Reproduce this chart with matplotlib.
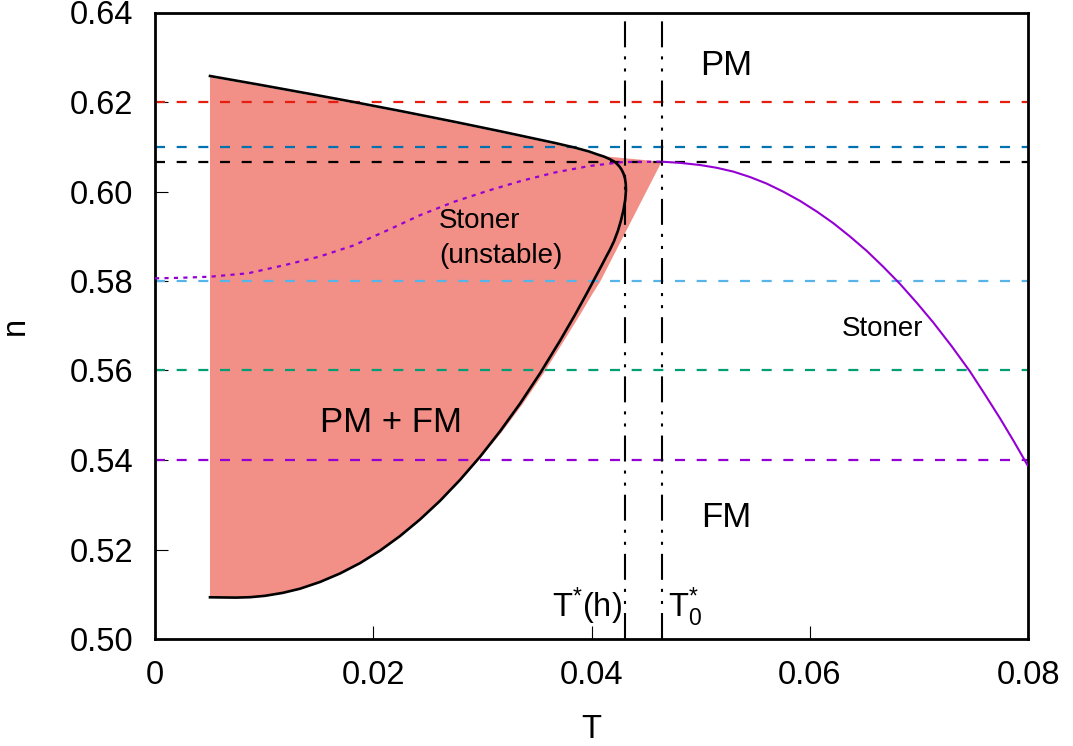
import matplotlib
matplotlib.use("Agg")
import matplotlib.pyplot as plt

plt.rcParams['font.family'] = ['Liberation Sans', 'DejaVu Sans']
plt.rcParams['mathtext.fontset'] = 'custom'
plt.rcParams['mathtext.rm'] = 'Liberation Sans'
plt.rcParams['mathtext.it'] = 'Liberation Sans:italic'
plt.rcParams['mathtext.bf'] = 'Liberation Sans:bold'
plt.rcParams['lines.scale_dashes'] = False

# ---------------- data ----------------
# coexistence (binodal) curve, black: upper branch -> nose -> lower branch
binodal_T = [0.00504, 0.00962, 0.01420, 0.01812, 0.02245, 0.02740, 0.03162, 0.03669,
             0.03849, 0.03977, 0.04050, 0.04115, 0.04170, 0.04215, 0.04252, 0.04275,
             0.04293, 0.04307, 0.04314, 0.04316, 0.04309, 0.04293, 0.04270, 0.04243,
             0.04207, 0.04170, 0.04133, 0.04097, 0.04060, 0.04017, 0.03959, 0.03849,
             0.03711, 0.03528, 0.03345, 0.03162, 0.02978, 0.02795, 0.02612, 0.02428,
             0.02245, 0.02062, 0.01879, 0.01695, 0.01512, 0.01329, 0.01173, 0.01008,
             0.00871, 0.00742, 0.00504]
binodal_n = [0.62581, 0.62384, 0.62181, 0.62004, 0.61801, 0.61560, 0.61347, 0.61082,
             0.60979, 0.60894, 0.60831, 0.60780, 0.60720, 0.60659, 0.60570, 0.60492,
             0.60402, 0.60291, 0.60168, 0.60034, 0.59810, 0.59587, 0.59352, 0.59128,
             0.58894, 0.58704, 0.58536, 0.58366, 0.58197, 0.58000, 0.57734, 0.57245,
             0.56664, 0.55935, 0.55260, 0.54642, 0.54071, 0.53555, 0.53088, 0.52670,
             0.52300, 0.51975, 0.51696, 0.51464, 0.51274, 0.51124, 0.51032, 0.50965,
             0.50934, 0.50925, 0.50932]

# PM + FM coexistence region (filled)
fill_T = [0.00504, 0.00504, 0.00962, 0.01420, 0.01812, 0.02245, 0.02740, 0.03162,
          0.03669, 0.03849, 0.03977, 0.04050, 0.04643, 0.04078, 0.04014, 0.03895,
          0.03748, 0.03560, 0.03372, 0.03184, 0.02992, 0.02804, 0.02612, 0.02428,
          0.02245, 0.02062, 0.01879, 0.01695, 0.01512, 0.01329, 0.01173, 0.01008,
          0.00871, 0.00742, 0.00504]
fill_n = [0.50932, 0.62552, 0.62355, 0.62152, 0.61975, 0.61772, 0.61531, 0.61318,
          0.61053, 0.60950, 0.60865, 0.60802, 0.60666, 0.57978, 0.57734, 0.57245,
          0.56664, 0.55935, 0.55260, 0.54642, 0.54071, 0.53555, 0.53088, 0.52670,
          0.52300, 0.51975, 0.51696, 0.51464, 0.51274, 0.51124, 0.51032, 0.50965,
          0.50934, 0.50925, 0.50932]

# Stoner line (stable), solid purple
stoner_T = [0.04643, 0.04811, 0.04994, 0.05147, 0.05299, 0.05452, 0.05605, 0.05758,
            0.05911, 0.06064, 0.06216, 0.06369, 0.06522, 0.06674, 0.06827, 0.06980,
            0.07133, 0.07301, 0.07468, 0.07606, 0.07743, 0.07871, 0.08000]
stoner_n = [0.60666, 0.60640, 0.60592, 0.60530, 0.60445, 0.60324, 0.60177, 0.59995,
            0.59790, 0.59553, 0.59292, 0.58994, 0.58673, 0.58317, 0.57935, 0.57515,
            0.57070, 0.56541, 0.55980, 0.55461, 0.54934, 0.54413, 0.53866]

# Stoner line (unstable), dotted purple
unstable_T = [0.00000, 0.00229, 0.00504, 0.00852, 0.01193, 0.01503, 0.01813, 0.02122,
              0.02433, 0.02743, 0.03052, 0.03362, 0.03672, 0.03982, 0.04291, 0.04643]
unstable_n = [0.58060, 0.58071, 0.58096, 0.58172, 0.58358, 0.58543, 0.58789, 0.59124,
              0.59475, 0.59772, 0.60018, 0.60241, 0.60429, 0.60570, 0.60659, 0.60666]

# horizontal dashed density cuts
hline_n = [0.62, 0.61, 0.6067, 0.58, 0.56, 0.54]
hline_colors = ['#e51e10', '#0072b2', '#000000', '#56b4e9', '#009e73', '#9400d3']

# characteristic temperatures
T_star_h = 0.04307
T_star_0 = 0.04643

x_ticks = [0, 0.02, 0.04, 0.06, 0.08]
x_ticklabels = ['0', '0.02', '0.04', '0.06', '0.08']
y_ticks = [0.50, 0.52, 0.54, 0.56, 0.58, 0.60, 0.62, 0.64]
y_ticklabels = ['0.50', '0.52', '0.54', '0.56', '0.58', '0.60', '0.62', '0.64']

# ---------------- figure ----------------
W, H = 1073, 746
fig = plt.figure(figsize=(W / 100, H / 100), dpi=100)
ax = fig.add_axes([155 / W, 1 - 639 / H, (1028 - 155) / W, (639 - 12.5) / H])

ax.fill(fill_T, fill_n, color='#f28f86', lw=0, zorder=1)

for n, c in zip(hline_n, hline_colors):
    ax.axhline(n, color=c, lw=1.6, linestyle=(0, (7.2, 8.4)), zorder=2)

dashdotdot = (0, (18.7, 6.5, 2.2, 6.5, 2.2, 6.5))
for t in (T_star_h, T_star_0):
    ax.axvline(t, color='black', lw=1.5, linestyle=dashdotdot, zorder=3)

ax.plot(unstable_T, unstable_n, color='#9400d3', lw=1.6, linestyle=(0, (3.0, 3.8)), zorder=4)
ax.plot(stoner_T, stoner_n, color='#9400d3', lw=1.5, zorder=4, solid_capstyle='butt',
        solid_joinstyle='round')
ax.plot(binodal_T, binodal_n, color='black', lw=1.9, zorder=5, solid_joinstyle='round')

ax.set_xlim(0, 0.08)
ax.set_ylim(0.50, 0.64)
ax.set_xticks(x_ticks)
ax.set_xticklabels(x_ticklabels)
ax.set_yticks(y_ticks)
ax.set_yticklabels(y_ticklabels)
ax.tick_params(direction='in', length=9.5, width=0.8, labelsize=23.5,
               top=False, right=False)
ax.tick_params(axis='y', pad=15.5)
ax.tick_params(axis='x', pad=15)
for s in ax.spines.values():
    s.set_linewidth(2.0)

ax.set_xlabel('T', fontsize=23.5)
ax.xaxis.set_label_coords(0.5, -0.119)
ax.set_ylabel('n', fontsize=23.5, va='center')
ax.yaxis.set_label_coords(-0.160, 0.5)

# region labels
ax.text(0.05231, 0.62603, 'PM', fontsize=25, ha='center', va='baseline', zorder=6)
ax.text(0.05231, 0.52503, 'FM', fontsize=25, ha='center', va='baseline', zorder=6)
ax.text(0.02161, 0.54633, 'PM + FM', fontsize=25, ha='center', va='baseline', zorder=6)
ax.text(0.02603, 0.59178, 'Stoner', fontsize=20, ha='left', va='baseline', zorder=6)
ax.text(0.02603, 0.58396, '(unstable)', fontsize=20, ha='left', va='baseline', zorder=6)
ax.text(0.06293, 0.56778, 'Stoner', fontsize=20, ha='left', va='baseline', zorder=6)
ax.text(0.04279, 0.50498, r'$\mathrm{T^{*}(h)}$', fontsize=23.5, ha='right', va='baseline', zorder=6)
ax.text(0.04704, 0.50498, r'$\mathrm{T_{0}^{*}}$', fontsize=23.5, ha='left', va='baseline', zorder=6)

fig.savefig('out.png', dpi=100)
